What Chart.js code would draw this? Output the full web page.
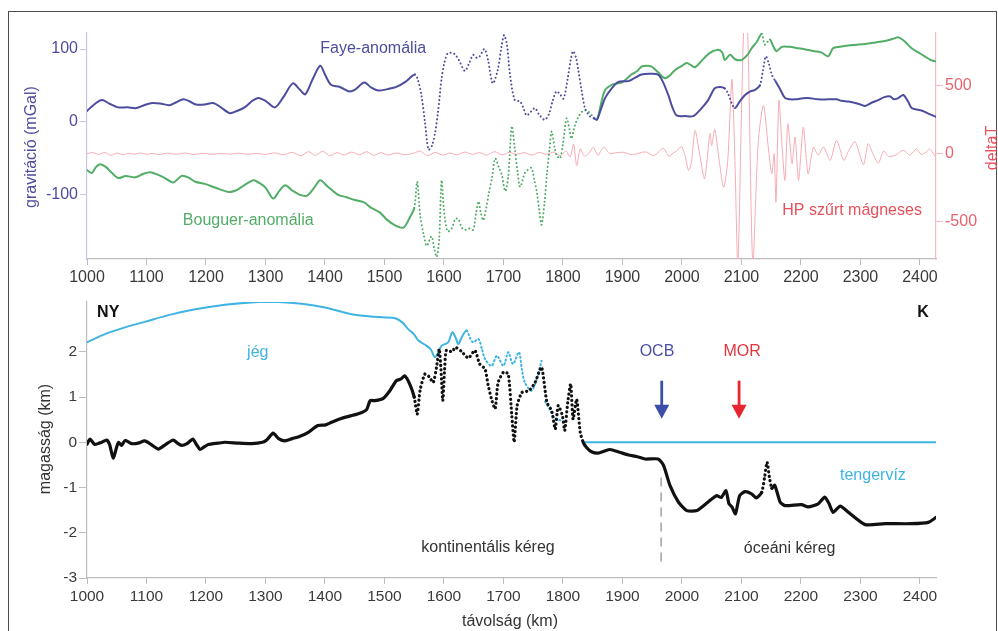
<!DOCTYPE html>
<html>
<head>
<meta charset="utf-8">
<title>szelvény - gravitáció, mágneses, magasság</title>
<script src="https://cdn.jsdelivr.net/npm/chart.js@4.4.0/dist/chart.umd.min.js"></script>
<style>
body{margin:0;background:#fff;overflow:hidden;}
#wrap{position:relative;width:998px;height:631px;}
#frame{position:absolute;left:8px;top:11px;width:987px;height:700px;border:1.5px solid #4d4d4d;}
canvas{position:absolute;left:0;top:0;}
</style>
</head>
<body>
<div id="wrap">
<div id="frame"></div>
<canvas id="topChart" width="998" height="631"></canvas>
<canvas id="bottomChart" width="998" height="631"></canvas>
</div>
<script>
// tick labels
const kmTicks = [1000,1100,1200,1300,1400,1500,1600,1700,1800,1900,2000,2100,2200,2300,2400];
const gravTicks = [-100,0,100];
const deltaTicks = [-500,0,500];
const heightTicks = [-3,-2,-1,0,1,2];

// [km, mGal]
const fayeAnomaly = [
  [1000,15],[1012,24],[1025,30],[1038,25],[1052,20],[1068,20],[1083,19],[1096,23],[1110,26],[1125,25],
  [1138,23],[1150,27],[1162,31],[1173,28],[1183,24],[1198,24],[1212,26],[1225,20],[1240,12],[1252,15],
  [1265,20],[1278,29],[1288,33],[1300,29],[1316,20],[1330,34],[1346,53],[1358,44],[1367,38],[1380,60],
  [1392,77],[1400,65],[1410,51],[1425,48],[1440,42],[1450,44],[1466,54],[1478,47],[1490,43],[1505,45],
  [1520,48],[1535,55],[1551,65],[1556,58],[1562,37],[1568,0],[1574,-38],[1580,-32],[1585,-15],[1590,14],
  [1596,60],[1601,82],[1606,94],[1612,95],[1618,93],[1625,85],[1635,70],[1642,80],[1649,92],[1655,88],
  [1660,90],[1668,100],[1674,85],[1682,53],[1690,70],[1697,105],[1701,119],[1706,105],[1711,65],[1719,30],
  [1728,28],[1733,20],[1739,9],[1746,14],[1753,19],[1760,10],[1769,3],[1776,10],[1783,30],[1789,42],
  [1795,38],[1801,32],[1808,60],[1813,85],[1817,97],[1822,88],[1826,70],[1831,45],[1837,19],[1845,8],
  [1852,5],[1857,3],[1864,18],[1871,33],[1882,46],[1893,55],[1910,56],[1920,60],[1932,65],[1945,66],
  [1960,65],[1968,55],[1977,37],[1984,20],[1991,9],[2005,8],[2019,8],[2032,18],[2044,30],[2055,46],
  [2064,48],[2072,46],[2078,38],[2084,25],[2089,19],[2097,28],[2106,37],[2115,42],[2123,44],[2131,50],
  [2136,70],[2141,90],[2146,80],[2151,65],[2157,56],[2165,45],[2173,33],[2182,31],[2190,31],[2200,32],
  [2212,33],[2228,31],[2246,31],[2260,31],[2268,29],[2280,28],[2291,26],[2300,24],[2308,22],[2318,26],
  [2330,30],[2340,34],[2350,35],[2356,31],[2364,33],[2372,37],[2380,28],[2386,19],[2395,17],[2405,15],
  [2415,11],[2427,7]
];

// [km, mGal]
const bouguerAnomaly = [
  [1000,-66],[1008,-70],[1015,-62],[1022,-58],[1032,-62],[1042,-70],[1053,-77],[1065,-74],[1081,-76],[1095,-71],
  [1106,-69],[1118,-72],[1131,-77],[1145,-83],[1159,-74],[1170,-76],[1182,-82],[1198,-85],[1215,-90],[1238,-96],
  [1250,-94],[1262,-88],[1280,-80],[1290,-84],[1300,-90],[1313,-105],[1323,-95],[1333,-87],[1345,-94],[1358,-100],
  [1370,-101],[1382,-90],[1392,-80],[1405,-89],[1422,-100],[1435,-103],[1450,-107],[1465,-110],[1478,-118],[1492,-124],
  [1504,-134],[1518,-142],[1532,-145],[1542,-132],[1550,-118],[1555,-82],[1560,-128],[1566,-155],[1571,-170],[1579,-157],
  [1584,-175],[1588,-185],[1592,-160],[1596,-80],[1600,-120],[1606,-150],[1613,-146],[1619,-133],[1624,-133],[1630,-145],
  [1635,-148],[1642,-146],[1649,-148],[1654,-125],[1658,-109],[1662,-125],[1666,-135],[1671,-118],[1675,-100],[1681,-75],
  [1686,-50],[1692,-62],[1697,-72],[1703,-95],[1708,-75],[1714,-6],[1719,-36],[1724,-70],[1728,-89],[1736,-70],
  [1742,-65],[1747,-63],[1752,-80],[1756,-96],[1760,-120],[1764,-141],[1769,-110],[1773,-71],[1777,-40],[1781,-13],
  [1786,-35],[1789,-45],[1795,-50],[1800,-30],[1806,5],[1811,-10],[1814,-23],[1820,-5],[1826,7],[1832,14],
  [1837,16],[1843,14],[1850,8],[1857,3],[1864,25],[1871,44],[1882,51],[1892,53],[1901,55],[1915,65],
  [1925,70],[1932,76],[1940,77],[1949,76],[1960,68],[1971,60],[1980,64],[1988,71],[2000,77],[2008,81],
  [2015,78],[2022,75],[2032,83],[2044,93],[2052,97],[2061,99],[2068,95],[2072,85],[2081,92],[2089,86],
  [2100,85],[2110,92],[2117,101],[2126,110],[2134,121],[2139,106],[2144,110],[2148,113],[2154,103],[2159,97],
  [2168,103],[2180,103],[2196,101],[2210,99],[2223,97],[2235,95],[2246,90],[2254,101],[2265,103],[2279,105],
  [2295,106],[2308,107],[2325,109],[2341,111],[2355,114],[2364,116],[2375,110],[2386,101],[2398,95],[2408,90],
  [2418,85],[2427,83]
];

// [km, deltaT]
const hpMagnetic = [
  [1000,0],[1010,8],[1020,-5],[1030,10],[1040,-12],[1050,5],[1060,-8],[1070,3],[1080,-3],[1090,6],
  [1100,-4],[1110,2],[1120,-6],[1135,4],[1150,-3],[1165,5],[1180,-5],[1195,3],[1210,-4],[1225,2],
  [1240,-3],[1255,4],[1270,-3],[1285,2],[1300,-5],[1315,6],[1330,-8],[1345,10],[1360,-15],[1372,15],
  [1384,-12],[1396,18],[1408,-15],[1420,8],[1432,-10],[1445,12],[1458,-8],[1470,15],[1482,-12],[1494,8],
  [1506,-10],[1520,5],[1535,-8],[1550,5],[1560,20],[1572,-15],[1585,10],[1598,-10],[1610,5],[1622,-8],
  [1635,12],[1648,-5],[1660,8],[1672,-10],[1685,15],[1698,-8],[1710,10],[1722,-5],[1735,8],[1748,-10],
  [1760,10],[1772,-5],[1785,12],[1795,-15],[1805,20],[1812,-25],[1818,71],[1823,-88],[1829,36],[1835,-15],
  [1840,-11],[1846,20],[1851,47],[1859,-11],[1868,47],[1879,0],[1890,8],[1902,10],[1913,-5],[1924,-2],
  [1932,10],[1941,12],[1952,-15],[1960,10],[1969,40],[1978,-20],[1985,5],[1991,20],[1999,52],[2005,-10],
  [2011,-122],[2016,-60],[2022,171],[2030,-10],[2038,-183],[2047,147],[2050,60],[2055,178],[2062,-30],[2070,-246],
  [2077,-49],[2084,545],[2089,-49],[2094,-800],[2104,950],[2110,950],[2119,-800],[2128,73],[2137,355],[2145,50],
  [2151,-147],[2155,0],[2158,-354],[2163,391],[2168,73],[2173,-195],[2178,220],[2185,-73],[2190,122],[2196,-195],
  [2204,196],[2212,-147],[2221,49],[2229,-10],[2238,49],[2249,-49],[2260,98],[2272,-49],[2280,20],[2291,88],
  [2305,-80],[2313,73],[2322,-10],[2330,-70],[2339,20],[2347,-20],[2359,-10],[2372,25],[2383,-10],[2394,35],
  [2402,-5],[2410,10],[2416,35],[2425,-15]
];

// [km, km] jégfelszín
const iceSurface = [
  [1000,2.21],[1030,2.39],[1064,2.54],[1097,2.66],[1137,2.81],[1182,2.94],[1232,3.04],[1288,3.10],[1321,3.10],[1361,3.06],
  [1400,2.98],[1445,2.83],[1476,2.78],[1501,2.76],[1518,2.74],[1530,2.65],[1540,2.50],[1550,2.38],[1557,2.25],[1571,2.13],
  [1578,2.05],[1585,1.88],[1596,2.13],[1607,2.21],[1614,2.43],[1620,2.30],[1624,2.17],[1631,2.35],[1638,2.47],[1644,2.30],
  [1649,2.21],[1658,2.28],[1664,2.05],[1669,1.84],[1680,1.69],[1689,1.91],[1700,1.69],[1708,1.99],[1716,1.73],[1726,1.99],
  [1731,1.60],[1736,1.32],[1747,1.14],[1756,1.40],[1764,1.80],[1767,null],[1770,0.90],[1778,0.72],[1785,0.55],[1792,0.50],
  [1798,0.48]
];

const seaLevel = [[1832,0],[2427,0]];

// [km, km] felszín / tengerfenék
const topography = [
  [1000,-0.04],[1005,0.07],[1013,-0.05],[1020,-0.02],[1025,0.0],[1033,0.05],[1038,-0.05],[1044,-0.35],[1050,-0.1],[1053,0.0],
  [1058,-0.07],[1064,0.04],[1075,-0.03],[1086,-0.02],[1097,0.03],[1108,-0.05],[1120,-0.15],[1132,-0.05],[1145,0.05],[1152,-0.02],
  [1159,-0.07],[1168,-0.03],[1178,0.07],[1184,-0.05],[1190,-0.16],[1197,-0.1],[1204,-0.05],[1220,-0.02],[1232,0.0],[1255,-0.02],
  [1277,-0.03],[1295,0.0],[1302,0.05],[1313,0.2],[1322,0.08],[1333,0.03],[1345,0.08],[1356,0.12],[1372,0.22],[1388,0.37],
  [1400,0.38],[1411,0.44],[1428,0.53],[1445,0.59],[1462,0.66],[1470,0.72],[1476,0.92],[1484,0.92],[1498,0.97],[1509,1.14],
  [1520,1.36],[1528,1.40],[1534,1.47],[1543,1.27],[1550,1.0],[1555,0.62],[1560,1.16],[1568,1.51],[1575,1.45],[1582,1.32],
  [1588,1.7],[1592,2.06],[1595,1.6],[1598,0.92],[1601,1.6],[1604,2.03],[1614,2.0],[1619,2.10],[1630,2.0],[1641,1.86],
  [1652,2.03],[1660,1.73],[1669,1.62],[1674,1.28],[1680,0.95],[1686,0.74],[1691,1.32],[1700,1.55],[1708,1.51],[1714,0.59],
  [1718,0.0],[1723,0.81],[1731,1.10],[1743,1.14],[1753,1.32],[1764,1.66],[1773,0.88],[1781,0.70],[1787,0.29],[1792,0.81],
  [1799,0.59],[1803,0.26],[1808,0.88],[1813,1.29],[1817,0.51],[1823,0.95],[1829,0.22],[1834,0.0],[1840,-0.12],[1848,-0.21],
  [1859,-0.24],[1869,-0.2],[1879,-0.16],[1895,-0.22],[1910,-0.28],[1925,-0.32],[1938,-0.37],[1960,-0.37],[1969,-0.51],[1980,-0.96],
  [1994,-1.32],[2008,-1.51],[2025,-1.51],[2044,-1.32],[2058,-1.18],[2066,-1.22],[2074,-1.07],[2079,-1.36],[2084,-1.43],[2090,-1.58],
  [2097,-1.18],[2106,-1.09],[2117,-1.14],[2125,-1.23],[2134,-1.11],[2139,-0.77],[2143,-0.44],[2147,-0.77],[2151,-1.02],[2156,-0.95],
  [2165,-1.32],[2173,-1.40],[2201,-1.38],[2212,-1.43],[2229,-1.36],[2240,-1.21],[2247,-1.35],[2254,-1.55],[2266,-1.41],[2280,-1.55],
  [2308,-1.82],[2341,-1.80],[2386,-1.80],[2414,-1.77],[2427,-1.66]
];

// óceáni-kontinentális határ (OCB) szaggatott vonal
const ocbLine = [[1965,-0.78],[1965,-2.72]];

// pontozott (ritka mérés) szakaszok, km
const fayeDotted = [[1551,1852],[2072,2089],[2131,2157]];
const bouguerDotted = [[1550,1857],[2134,2148]];
const iceDotted = [[1640,1800]];
const topoDotted = [[1550,1834],[2134,2151]];

const FONT = '"Liberation Sans", Arial, sans-serif';
Chart.defaults.font.family = FONT;

const cFaye = '#4d4d9f', cBouguer = '#52ad67', cMag = '#f5abb3', cMagText = '#e8505a';
const cIce = '#3fb4e3', cTopo = '#111';

function toPts(arr){
  return arr.map(p => ({x: p[0], y: p[1]}));
}

// segment-enkénti pontozás a megadott km tartományokban
function dotted(ranges, dash){
  return {
    borderDash: ctx => {
      let m = (ctx.p0.parsed.x + ctx.p1.parsed.x) / 2;
      return ranges.some(r => m > r[0] && m < r[1]) ? dash : undefined;
    }
  };
}

function fixTicks(list){
  return s => { s.ticks = list.map(v => ({value: v})); };
}

function xAxis(boxHeight, fontSize){
  return {
    type: 'linear', min: 1000, max: 2427,
    afterBuildTicks: fixTicks(kmTicks),
    afterFit: s => { s.height = boxHeight; },
    ticks: {color: '#3a3a3a', font: {size: fontSize}, padding: 3, maxRotation: 0, autoSkip: false, callback: v => String(v)},
    grid: {drawOnChartArea: false, tickLength: 6, color: '#bdbdbd'},
    border: {color: '#bdbdbd', width: 1.2}
  };
}

// szövegek, tengelycímek, nyilak
function notesPlugin(items, titles, arrows){
  return {
    id: 'notes',
    afterDraw(chart){
      const ctx = chart.ctx, xs = chart.scales.x, ys = chart.scales.y;
      ctx.save();
      items.forEach(t => {
        ctx.font = (t.bold ? 'bold ' : '') + '16px ' + FONT;
        ctx.fillStyle = t.color;
        ctx.textAlign = t.align || 'center';
        ctx.textBaseline = 'middle';
        ctx.fillText(t.text, xs.getPixelForValue(t.x), ys.getPixelForValue(t.y));
      });
      titles.forEach(t => {
        ctx.save();
        ctx.translate(t.px, t.py);
        ctx.rotate(t.rot * Math.PI / 180);
        ctx.font = '16px ' + FONT;
        ctx.fillStyle = t.color;
        ctx.textAlign = 'center';
        ctx.textBaseline = 'middle';
        ctx.fillText(t.text, 0, 0);
        ctx.restore();
      });
      arrows.forEach(a => {
        let x = xs.getPixelForValue(a.x);
        let y0 = ys.getPixelForValue(a.from), y1 = ys.getPixelForValue(a.to);
        ctx.strokeStyle = a.color;
        ctx.fillStyle = a.color;
        ctx.lineWidth = 2.8;
        ctx.beginPath();
        ctx.moveTo(x, y0);
        ctx.lineTo(x, y1 - 10);
        ctx.stroke();
        ctx.beginPath();
        ctx.moveTo(x - 7.5, y1 - 14);
        ctx.lineTo(x + 7.5, y1 - 14);
        ctx.lineTo(x, y1);
        ctx.closePath();
        ctx.fill();
      });
      ctx.restore();
    }
  };
}

// felső: gravitáció + mágneses
new Chart(document.getElementById('topChart'), {
  type: 'line',
  data: {
    datasets: [
      {data: toPts(fayeAnomaly), yAxisID: 'y', borderColor: cFaye, borderWidth: 2, borderCapStyle: 'round',
       segment: dotted(fayeDotted, [0.1, 3.8]), tension: 0.3, pointRadius: 0},
      {data: toPts(bouguerAnomaly), yAxisID: 'y', borderColor: cBouguer, borderWidth: 2, borderCapStyle: 'round',
       segment: dotted(bouguerDotted, [0.1, 3.8]), tension: 0.3, pointRadius: 0},
      {data: toPts(hpMagnetic), yAxisID: 'y2', borderColor: cMag, borderWidth: 1, tension: 0.25, pointRadius: 0}
    ]
  },
  options: {
    responsive: false, animation: false, devicePixelRatio: 1,
    layout: {padding: {top: 33, bottom: 341, left: 0, right: 0}},
    plugins: {legend: {display: false}, tooltip: {enabled: false}},
    scales: {
      x: xAxis(31, 16),
      y: {
        position: 'left', min: -188, max: 122,
        afterBuildTicks: fixTicks(gravTicks),
        afterFit: s => { s.width = 87; },
        ticks: {color: cFaye, font: {size: 16}, padding: 2, callback: v => String(v)},
        grid: {drawOnChartArea: false, tickLength: 7, color: '#c5c5e6'},
        border: {color: '#c5c5e6', width: 1.2}
      },
      y2: {
        position: 'right', min: -771, max: 884,
        afterBuildTicks: fixTicks(deltaTicks),
        afterFit: s => { s.width = 62; },
        ticks: {color: '#e4646e', font: {size: 16}, padding: 2, callback: v => String(v)},
        grid: {drawOnChartArea: false, tickLength: 7, color: '#f6b8bf'},
        border: {color: '#f6b8bf', width: 1.2}
      }
    }
  },
  plugins: [notesPlugin(
    [
      {text: 'Faye-anomália', x: 1481, y: 100, color: cFaye},
      {text: 'Bouguer-anomália', x: 1271, y: -135, color: cBouguer},
      {text: 'HP szűrt mágneses', x: 2286, y: -121, color: cMagText}
    ],
    [
      {text: 'gravitáció (mGal)', px: 32, py: 147, rot: -90, color: cFaye},
      {text: 'deltaT', px: 993, py: 148, rot: -90, color: cMagText}
    ],
    []
  )]
});

// alsó: jég, tengervíz, felszín
new Chart(document.getElementById('bottomChart'), {
  type: 'line',
  data: {
    datasets: [
      {data: toPts(topography), borderColor: cTopo, borderWidth: 3.2, borderCapStyle: 'round', borderJoinStyle: 'round',
       segment: dotted(topoDotted, [0.1, 4.4]), tension: 0.2, pointRadius: 0},
      {data: toPts(iceSurface), borderColor: cIce, borderWidth: 2, borderCapStyle: 'round',
       segment: dotted(iceDotted, [1.2, 2.8]), tension: 0.3, pointRadius: 0, spanGaps: false},
      {data: toPts(seaLevel), borderColor: cIce, borderWidth: 2.2, pointRadius: 0},
      {data: toPts(ocbLine), borderColor: '#a8a8a8', borderWidth: 1.6, borderDash: [9, 6], pointRadius: 0}
    ]
  },
  options: {
    responsive: false, animation: false, devicePixelRatio: 1,
    layout: {padding: {top: 302, bottom: 0, left: 0, right: 62}},
    plugins: {legend: {display: false}, tooltip: {enabled: false}},
    scales: {
      x: xAxis(53, 15.5),
      y: {
        position: 'left', min: -3, max: 3.1,
        afterBuildTicks: fixTicks(heightTicks),
        afterFit: s => { s.width = 87; },
        ticks: {color: '#3a3a3a', font: {size: 15.5}, padding: 2, callback: v => String(v)},
        grid: {drawOnChartArea: false, tickLength: 8, color: '#bdbdbd'},
        border: {color: '#bdbdbd', width: 1.2}
      }
    }
  },
  plugins: [notesPlugin(
    [
      {text: 'NY', x: 1017, y: 2.86, color: '#111', bold: true, align: 'left'},
      {text: 'K', x: 2405, y: 2.86, color: '#111', bold: true},
      {text: 'jég', x: 1287, y: 1.98, color: cIce},
      {text: 'OCB', x: 1958, y: 2.0, color: '#4a4fa6'},
      {text: 'MOR', x: 2101, y: 2.0, color: '#e5343c'},
      {text: 'tengervíz', x: 2321, y: -0.74, color: cIce},
      {text: 'kontinentális kéreg', x: 1674, y: -2.32, color: '#333'},
      {text: 'óceáni kéreg', x: 2181, y: -2.35, color: '#333'}
    ],
    [
      {text: 'magasság (km)', px: 46, py: 439, rot: -90, color: '#333'},
      {text: 'távolság (km)', px: 510, py: 622, rot: 0, color: '#333'}
    ],
    [
      {x: 1966, from: 1.36, to: 0.52, color: '#3c4ea8'},
      {x: 2096, from: 1.36, to: 0.52, color: '#e8262f'}
    ]
  )]
});
</script>
</body>
</html>
